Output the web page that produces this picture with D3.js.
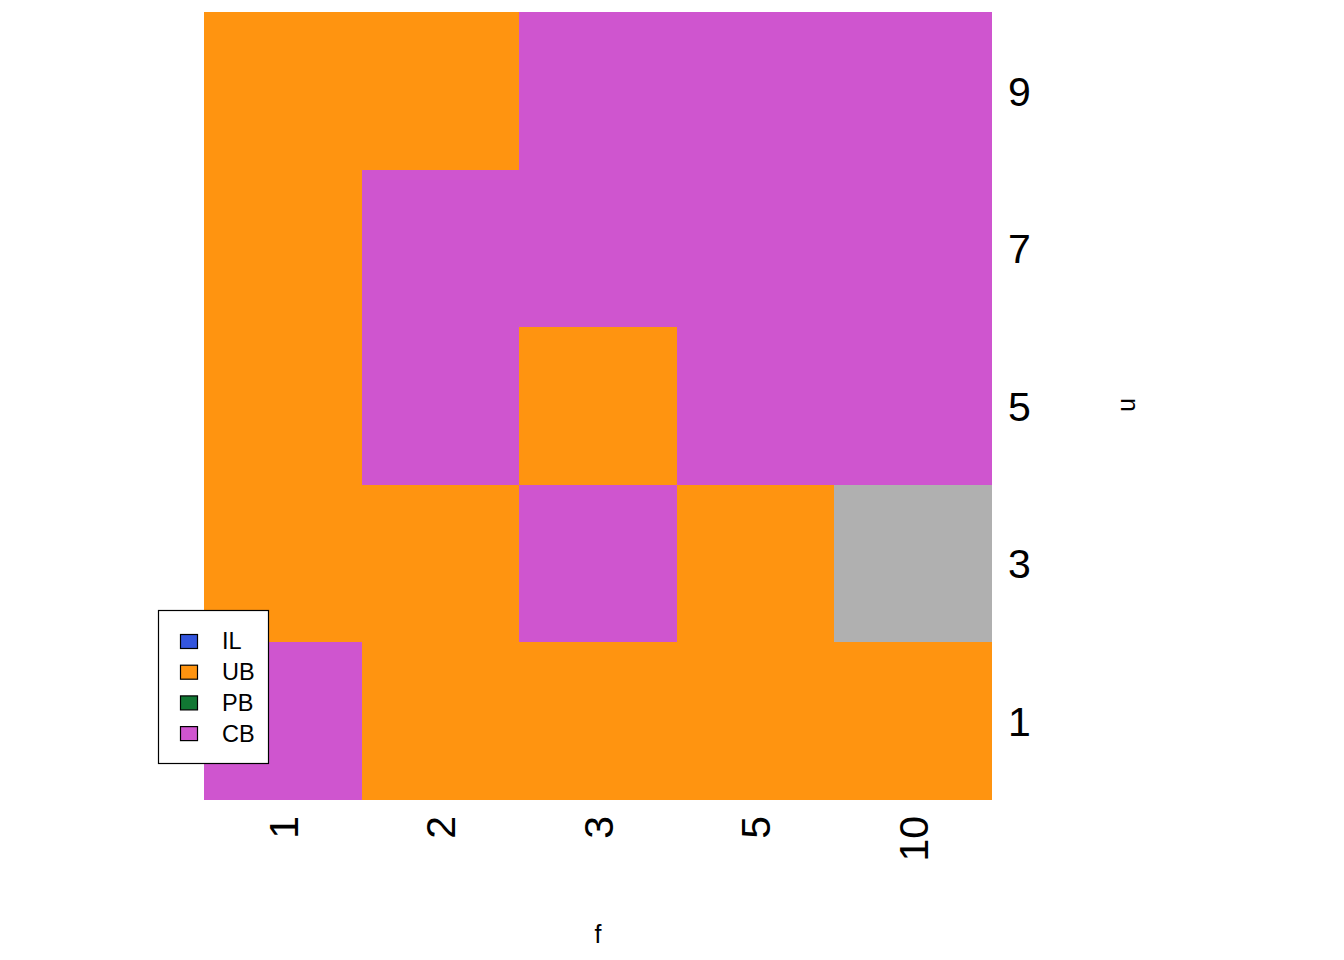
<!DOCTYPE html>
<html><head><meta charset="utf-8">
<script src="https://cdn.jsdelivr.net/npm/d3@7"></script>
<style>body{margin:0;background:#fff}</style>
</head><body>
<script>
const fLevels = ["1","2","3","5","10"];
const nLevels = ["1","3","5","7","9"];
// status per row (n), columns in order of fLevels
const row_n1 = ["CB","UB","UB","UB","UB"];
const row_n3 = ["UB","UB","CB","UB",null];
const row_n5 = ["UB","CB","UB","CB","CB"];
const row_n7 = ["UB","CB","CB","CB","CB"];
const row_n9 = ["UB","UB","CB","CB","CB"];
const rows = [row_n1,row_n3,row_n5,row_n7,row_n9];
const legendKeys = ["IL","UB","PB","CB"];
const legendColors = ["#3355DD","#FF9410","#117733","#CF55CF"];
const naColor = "#B0B0B0";

const W=1344,H=960;
const svg=d3.select("body").append("svg").attr("width",W).attr("height",H);
const x=d3.scaleBand().domain(fLevels).range([204,992]);
const y=d3.scaleBand().domain(nLevels).range([800,12]);
const color=d3.scaleOrdinal().domain(legendKeys).range(legendColors);

const cells=[];
rows.forEach((r,i)=>r.forEach((v,j)=>cells.push({n:nLevels[i],f:fLevels[j],v})));
svg.append("g").attr("shape-rendering","crispEdges").selectAll("rect").data(cells).join("rect")
  .attr("x",d=>Math.round(x(d.f))).attr("y",d=>Math.round(y(d.n)))
  .attr("width",d=>Math.round(x(d.f)+x.bandwidth())-Math.round(x(d.f)))
  .attr("height",d=>Math.round(y(d.n)+y.bandwidth())-Math.round(y(d.n)))
  .attr("fill",d=>d.v?color(d.v):naColor);

const font="Liberation Sans, Arial, sans-serif";
// y ticks on right
svg.append("g").selectAll("text").data(nLevels).join("text")
  .attr("x",1008).attr("y",d=>y(d)+y.bandwidth()/2)
  .attr("dy","0.36em").attr("font-family",font).attr("font-size",41)
  .text(d=>d);
// x ticks rotated
svg.append("g").selectAll("text").data(fLevels).join("text")
  .attr("transform",d=>`translate(${x(d)+x.bandwidth()/2},816) rotate(-90)`)
  .attr("text-anchor","end").attr("dy","0.36em")
  .attr("font-family",font).attr("font-size",41).text(d=>d);
// axis titles
svg.append("text").attr("x",598).attr("y",943).attr("text-anchor","middle")
  .attr("font-family",font).attr("font-size",25).text("f");
svg.append("text").attr("transform","translate(1130,405) rotate(90)")
  .attr("text-anchor","middle").attr("dy","0.36em")
  .attr("font-family",font).attr("font-size",25).text("n");

// legend
const lg=svg.append("g");
lg.append("rect").attr("x",158.5).attr("y",610.5).attr("width",110).attr("height",153)
  .attr("fill","#fff").attr("stroke","#000").attr("stroke-width",1.2);
legendKeys.forEach((k,i)=>{
  const cy=641+i*30.7;
  lg.append("rect").attr("x",180.5).attr("y",cy-6.5).attr("width",17).attr("height",14)
    .attr("fill",color(k)).attr("stroke","#000").attr("stroke-width",1.2);
  lg.append("text").attr("x",222).attr("y",cy).attr("dy","0.36em")
    .attr("font-family",font).attr("font-size",23.5).text(k);
});
</script>
</body></html>
